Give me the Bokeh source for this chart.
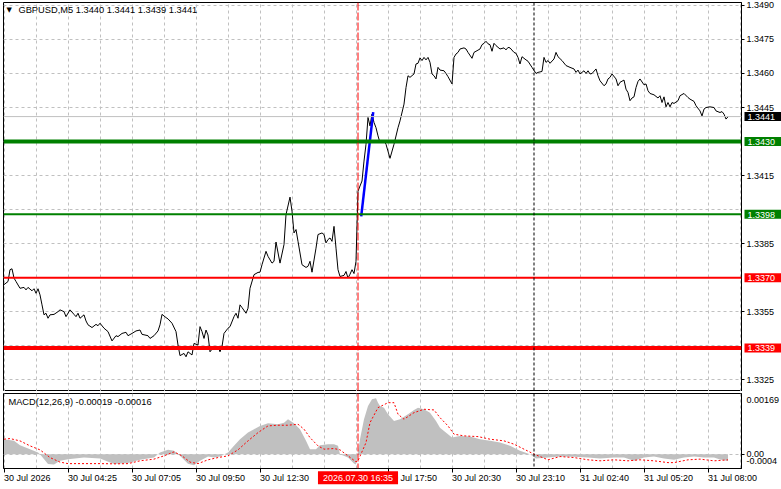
from bokeh.plotting import figure
from bokeh.layouts import column
from bokeh.models import Range1d, FixedTicker, Span, Label, Grid, PrintfTickFormatter
from bokeh.embed import file_html
from bokeh.resources import INLINE

# ---------------- data ----------------
symbol_title = "GBPUSD,M5  1.3440 1.3441 1.3439 1.3441"
macd_title = "MACD(12,26,9) -0.00019 -0.00016"

# (bar index, close) of the M5 line chart
price_points = [
    (0, 1.33669), (2, 1.33683), (3, 1.33735), (4, 1.33739), (5, 1.33698), (6, 1.33683),
    (8, 1.33653), (10, 1.33657), (11, 1.33646), (12, 1.33657), (14, 1.33642), (15, 1.33651),
    (16, 1.33631), (17, 1.33651), (18, 1.33624), (19, 1.33580), (20, 1.33536), (21, 1.33543),
    (22, 1.33521), (23, 1.33536), (25, 1.33538), (27, 1.33550), (28, 1.33558), (30, 1.33550),
    (31, 1.33528), (33, 1.33558), (35, 1.33538), (36, 1.33528), (37, 1.33543), (38, 1.33521),
    (40, 1.33536), (41, 1.33509), (42, 1.33492), (44, 1.33480), (46, 1.33494), (47, 1.33488),
    (48, 1.33499), (50, 1.33477), (52, 1.33462), (54, 1.33421), (56, 1.33444), (57, 1.33440),
    (59, 1.33454), (61, 1.33459), (62, 1.33444), (64, 1.33454), (66, 1.33465), (68, 1.33469),
    (69, 1.33450), (72, 1.33444), (73, 1.33432), (75, 1.33444), (77, 1.33465), (78, 1.33492),
    (79, 1.33538), (81, 1.33524), (82, 1.33518), (84, 1.33499), (86, 1.33462), (87, 1.33403),
    (88, 1.33356), (90, 1.33366), (91, 1.33351), (92, 1.33373), (94, 1.33359), (95, 1.33410),
    (97, 1.33403), (98, 1.33484), (99, 1.33462), (100, 1.33432), (101, 1.33469), (102, 1.33447),
    (103, 1.33373), (105, 1.33396), (107, 1.33396), (108, 1.33373), (109, 1.33396), (110, 1.33454),
    (112, 1.33477), (113, 1.33484), (115, 1.33528), (116, 1.33543), (117, 1.33521), (118, 1.33580),
    (119, 1.33568), (121, 1.33543), (122, 1.33565), (123, 1.33653), (125, 1.33713), (127, 1.33723),
    (128, 1.33724), (129, 1.33757), (131, 1.33816), (132, 1.33794), (134, 1.33764), (135, 1.33772),
    (136, 1.33857), (138, 1.33764), (140, 1.33846), (141, 1.33978), (143, 1.34055), (144, 1.33993),
    (145, 1.33897), (146, 1.33912), (147, 1.33860), (149, 1.33757), (151, 1.33745), (152, 1.33750),
    (153, 1.33772), (154, 1.33724), (156, 1.33830), (157, 1.33890), (159, 1.33897), (160, 1.33890),
    (161, 1.33853), (162, 1.33868), (163, 1.33875), (164, 1.33860), (165, 1.33926), (166, 1.33830),
    (167, 1.33735), (168, 1.33705), (170, 1.33710), (171, 1.33727), (172, 1.33698), (173, 1.33715),
    (174, 1.33735), (175, 1.33718), (176, 1.33772), (177, 1.34081), (178, 1.34104), (179, 1.34126),
    (180, 1.34214), (181, 1.34288), (182, 1.34406), (183, 1.34369), (184, 1.34421), (185, 1.34384),
    (186, 1.34361), (187, 1.34325), (188, 1.34295), (190, 1.34303), (191, 1.34288), (193, 1.34226),
    (195, 1.34288), (197, 1.34361), (198, 1.34391), (200, 1.34465), (201, 1.34538), (202, 1.34590),
    (203, 1.34583), (205, 1.34598), (206, 1.34642), (207, 1.34645), (208, 1.34669), (209, 1.34657),
    (210, 1.34671), (211, 1.34660), (212, 1.34671), (213, 1.34649), (214, 1.34598), (215, 1.34590),
    (216, 1.34576), (217, 1.34627), (218, 1.34615), (220, 1.34612), (221, 1.34600), (222, 1.34586),
    (224, 1.34554), (225, 1.34671), (226, 1.34686), (227, 1.34693), (228, 1.34708), (230, 1.34713),
    (231, 1.34708), (232, 1.34693), (234, 1.34667), (235, 1.34693), (236, 1.34698), (238, 1.34708),
    (239, 1.34727), (240, 1.34733), (241, 1.34742), (242, 1.34731), (243, 1.34727), (244, 1.34698),
    (245, 1.34733), (246, 1.34723), (248, 1.34708), (250, 1.34713), (251, 1.34704), (252, 1.34715),
    (253, 1.34713), (255, 1.34693), (256, 1.34689), (257, 1.34671), (258, 1.34642), (259, 1.34674),
    (261, 1.34660), (262, 1.34654), (264, 1.34627), (266, 1.34600), (267, 1.34605), (269, 1.34609),
    (270, 1.34671), (271, 1.34649), (272, 1.34657), (273, 1.34645), (275, 1.34664), (276, 1.34693),
    (277, 1.34674), (279, 1.34657), (281, 1.34635), (283, 1.34627), (285, 1.34620), (286, 1.34605),
    (287, 1.34615), (288, 1.34598), (290, 1.34612), (291, 1.34600), (292, 1.34612), (293, 1.34598),
    (294, 1.34600), (296, 1.34620), (297, 1.34590), (298, 1.34568), (300, 1.34546), (301, 1.34554),
    (302, 1.34576), (303, 1.34583), (304, 1.34598), (306, 1.34576), (307, 1.34546), (308, 1.34561),
    (310, 1.34571), (311, 1.34531), (312, 1.34516), (313, 1.34480), (314, 1.34492), (315, 1.34497),
    (316, 1.34538), (317, 1.34565), (318, 1.34576), (320, 1.34550), (321, 1.34554), (322, 1.34524),
    (323, 1.34512), (325, 1.34506), (327, 1.34492), (328, 1.34502), (329, 1.34472), (330, 1.34497),
    (331, 1.34453), (332, 1.34472), (333, 1.34453), (334, 1.34472), (335, 1.34468), (337, 1.34480),
    (338, 1.34502), (340, 1.34512), (342, 1.34494), (343, 1.34487), (345, 1.34477), (346, 1.34458),
    (348, 1.34435), (349, 1.34413), (350, 1.34443), (351, 1.34450), (353, 1.34453), (355, 1.34450),
    (356, 1.34435), (358, 1.34428), (359, 1.34432), (360, 1.34421), (361, 1.34399), (362, 1.34409),
]
price_bar = [b for b, _ in price_points]
price_close = [c for _, c in price_points]

# blue trade line (bar, price)
trade_bar = [178.6, 184.6]
trade_price = [1.3397, 1.3443]

# horizontal levels
level_price = [1.3430, 1.3398, 1.3370, 1.3339]
bid_price = 1.3441

# vertical markers (bar index)
signal_bar_pos = 177.0
day_separator_bar = 265.0
signal_time_text = "2026.07.30 16:35"

# bottom time axis
time_tick_bar = [0, 32, 64, 96, 128, 192, 224, 256, 288, 320, 352]
time_tick_label = ["30 Jul 2026", "30 Jul 04:25", "30 Jul 07:05", "30 Jul 09:50", "30 Jul 12:30",
                   "30 Jul 17:50", "30 Jul 20:30", "30 Jul 23:10", "31 Jul 02:40", "31 Jul 05:20",
                   "31 Jul 08:00"]
time_grid_bar = [0, 16, 32, 48, 64, 80, 96, 112, 128, 144, 160, 176, 192, 208, 224, 240, 256,
                 272, 288, 304, 320, 336, 352, 368]

# price axis
price_tick = [1.3490, 1.3475, 1.3460, 1.3445, 1.3415, 1.3385, 1.3355, 1.3325]
price_grid = [1.3490, 1.3475, 1.3460, 1.3445, 1.3430, 1.3415, 1.3400, 1.3385, 1.3370,
              1.3355, 1.3340, 1.3325]

# MACD histogram (bar, value)
macd_points = [
    (0, 0.000417), (5, 0.00037), (8, 0.00025), (13, 0.000139), (17, 0.000044), (18, 0.0),
    (22, -0.000278), (25, -0.000292), (28, -0.000186), (32, -0.000139), (40, -0.000095),
    (48, -0.000122), (55, -0.000278), (62, -0.00025), (68, -0.000158), (75, -0.000095),
    (78, 0.000044), (82, 0.00012), (85, 0.000092), (88, -0.000047), (92, -0.00027),
    (95, -0.000306), (98, -0.000186), (102, -0.000067), (105, -0.000095), (108, -0.000067),
    (112, 0.000044), (115, 0.000231), (118, 0.000417), (122, 0.0006), (125, 0.000695),
    (128, 0.000787), (132, 0.000862), (137, 0.000834), (140, 0.000878), (142, 0.000973),
    (145, 0.000862), (148, 0.000695), (151, 0.00037), (153, 0.000139), (156, 0.000139),
    (158, 0.00025), (162, 0.000278), (165, 0.000278), (167, 0.000231), (168, 0.0),
    (172, -0.000095), (175, -0.000264), (176, -0.000292), (178, 0.000417), (180, 0.000973),
    (182, 0.001343), (184, 0.001529), (186, 0.001557), (187, 0.001434), (188, 0.001343),
    (190, 0.001295), (192, 0.001112), (195, 0.000926), (198, 0.000973), (202, 0.001112),
    (205, 0.001232), (207, 0.001295), (210, 0.001251), (213, 0.001156), (216, 0.000926),
    (218, 0.000739), (222, 0.000556), (224, 0.000461), (228, 0.000509), (233, 0.000489),
    (238, 0.000417), (243, 0.00037), (248, 0.000322), (253, 0.000231), (258, 0.000092),
    (263, 0.0), (266, -0.000122), (272, -0.000095), (278, -0.000067), (285, -0.000075),
    (292, -0.000095), (298, -0.000122), (305, -0.000095), (310, -0.000095), (315, -0.000186),
    (320, -0.000095), (325, -0.000067), (330, -0.000122), (335, -0.000158), (340, -0.000095),
    (345, -0.000067), (350, -0.000095), (355, -0.000095), (358, -0.00015), (362, -0.00019),
]
macd_bar = [b for b, _ in macd_points]
macd_hist = [v for _, v in macd_points]

# MACD signal line (bar, value)
signal_points = [
    (0, 0.000417), (3, 0.000434), (8, 0.00037), (13, 0.000231), (18, 0.00012), (23, -0.000095),
    (28, -0.000222), (32, -0.000264), (40, -0.000264), (48, -0.000264), (56, -0.00027),
    (62, -0.000264), (68, -0.000186), (75, -0.000139), (80, -0.000047), (85, 0.000064),
    (89, -0.000047), (93, -0.000222), (97, -0.000264), (102, -0.000158), (107, -0.000095),
    (112, -0.000047), (117, 0.00012), (122, 0.00037), (127, 0.0006), (132, 0.000787),
    (137, 0.000806), (142, 0.000806), (147, 0.000834), (150, 0.000695), (153, 0.000461),
    (157, 0.000231), (160, 0.000139), (165, 0.000156), (168, 0.00012), (172, -0.000047),
    (176, -0.000214), (177, -0.000186), (181, 0.000322), (183, 0.000878), (187, 0.001295),
    (192, 0.001434), (195, 0.001434), (197, 0.001112), (200, 0.000973), (205, 0.001156),
    (210, 0.001251), (215, 0.001232), (218, 0.001017), (222, 0.000787), (225, 0.000556),
    (230, 0.000509), (237, 0.000489), (243, 0.000417), (250, 0.00037), (255, 0.000278),
    (260, 0.000139), (265, 0.0), (272, -0.000158), (278, -0.000067), (285, -0.000095),
    (292, -0.000158), (298, -0.000186), (305, -0.000158), (312, -0.000186), (318, -0.000158),
    (325, -0.000186), (332, -0.000236), (335, -0.000236), (342, -0.000158), (348, -0.000139),
    (355, -0.000186), (362, -0.00016),
]
signal_bar = [b for b, _ in signal_points]
signal_val = [v for _, v in signal_points]

macd_max_label = 0.00169
macd_min_label = -0.0004

# ---------------- styling ----------------
FONT = "Liberation Sans"
FS = "9px"
TITLE_FS = "9.3px"
GREEN = "#008000"
RED = "#FF0000"
GRID = "#C0C0C0"
level_color = [GREEN, GREEN, RED, RED]
level_width = [4, 2, 2, 4]

FRAME_W = 738
LEFT = 3
RIGHT = 40

xr = Range1d(-0.25, 368.75)


def style_axis(ax):
    ax.axis_line_color = "black"
    ax.major_tick_line_color = "black"
    ax.major_tick_out = 3
    ax.major_tick_in = 0
    ax.minor_tick_out = 0
    ax.minor_tick_in = 0
    ax.major_label_text_font = FONT
    ax.major_label_text_font_size = FS
    ax.major_label_text_color = "black"
    ax.major_label_standoff = 2


def add_grid(fig, dim, ticks):
    fig.add_layout(Grid(dimension=dim, ticker=FixedTicker(ticks=ticks), grid_line_color=GRID,
                        grid_line_dash="3 3", grid_line_width=1))


def tag(fig, y, text, bg, offset=3, pad=(3, 12, 2, 1), color="white"):
    l, r, t, b = pad
    fig.add_layout(Label(x=xr.end, y=y, x_offset=offset, text=text, text_align="left",
                         text_baseline="middle", text_font=FONT, text_font_size=FS,
                         text_color=color, background_fill_color=bg,
                         background_fill_alpha=1.0 if bg else 0.0,
                         padding=dict(left=l, right=r, top=t, bottom=b)), "right")


# ---------------- main price panel ----------------
p = figure(x_range=xr, y_range=Range1d(1.33198, 1.34913), frame_width=FRAME_W, frame_height=389,
           min_border_left=LEFT, min_border_right=RIGHT, min_border_top=2, min_border_bottom=0,
           x_axis_location=None, y_axis_location="right", toolbar_location=None,
           output_backend="svg", background_fill_color="white", border_fill_color="white",
           outline_line_color="black", outline_line_width=1)
p.xgrid.visible = False
p.ygrid.visible = False
add_grid(p, 0, time_grid_bar)
add_grid(p, 1, price_grid)

ay = p.yaxis[0]
ay.ticker = FixedTicker(ticks=price_tick)
ay.formatter = PrintfTickFormatter(format="%.4f")
style_axis(ay)

p.add_layout(Span(location=bid_price, dimension="width", line_color=GRID, line_width=1))
p.line(price_bar, price_close, line_color="black", line_width=1)
for lv, c, w in zip(level_price, level_color, level_width):
    p.add_layout(Span(location=lv, dimension="width", line_color=c, line_width=w))
p.add_layout(Span(location=signal_bar_pos, dimension="height", line_color=RED, line_width=1,
                  line_dash="8 2"))
p.add_layout(Span(location=day_separator_bar, dimension="height", line_color="black",
                  line_width=1, line_dash="3 2"))
p.line(trade_bar, trade_price, line_color="#0000FF", line_width=2.5)

# price tags on the axis
tag(p, bid_price, f"{bid_price:.4f}", "black")
for lv, c in zip(level_price, level_color):
    tag(p, lv, f"{lv:.4f}", c)

# title
p.add_layout(Label(x=2.6, y=1.34878, text="\u25BC", text_align="center", text_baseline="middle",
                   text_font="DejaVu Sans", text_font_size="7px", text_color="black"))
p.add_layout(Label(x=7.2, y=1.34878, text=symbol_title, text_align="left", text_baseline="middle",
                   text_font=FONT, text_font_size=TITLE_FS, text_color="black"))

# ---------------- MACD panel ----------------
m = figure(x_range=xr, y_range=Range1d(macd_min_label, macd_max_label), frame_width=FRAME_W,
           frame_height=75, min_border_left=LEFT, min_border_right=RIGHT, min_border_top=2,
           min_border_bottom=21, x_axis_location="below", y_axis_location="right",
           toolbar_location=None, output_backend="svg", background_fill_color="white",
           border_fill_color="white", outline_line_color="black", outline_line_width=1)
m.xgrid.visible = False
m.ygrid.visible = False
add_grid(m, 0, time_grid_bar)
add_grid(m, 1, [0.0])

m.varea(x=macd_bar, y1=0, y2=macd_hist, fill_color="#C0C0C0", fill_alpha=1.0)
m.line(signal_bar, signal_val, line_color=RED, line_width=1, line_dash="2 2")
m.add_layout(Span(location=signal_bar_pos, dimension="height", line_color=RED, line_width=1,
                  line_dash="8 2"))
m.add_layout(Span(location=day_separator_bar, dimension="height", line_color="black",
                  line_width=1, line_dash="3 2"))

ax = m.xaxis[0]
ax.ticker = FixedTicker(ticks=time_tick_bar)
ax.major_label_overrides = {b: t for b, t in zip(time_tick_bar, time_tick_label)}
style_axis(ax)
ax.major_tick_out = 4
ax.major_label_orientation = -0.0001   # numeric orientation -> labels start at the tick
ax.major_label_standoff = 5

my = m.yaxis[0]
my.ticker = FixedTicker(ticks=[0.0])
my.major_label_overrides = {0: "0.00"}
style_axis(my)

# MACD scale labels (window max near top, window min near bottom)
tag(m, 0.00152, f"{macd_max_label:.5f}", None, offset=5, pad=(0, 0, 0, 0), color="black")
tag(m, -0.000185, "-0.0004", None, offset=5, pad=(0, 0, 0, 0), color="black")

m.add_layout(Label(x=2.2, y=0.00144, text=macd_title, text_align="left", text_baseline="middle",
                   text_font=FONT, text_font_size=TITLE_FS, text_color="black"))

# crosshair time tag on the time axis
m.add_layout(Label(x=signal_bar_pos, y=-0.000659, text=signal_time_text,
                   text_align="center", text_baseline="middle", text_font=FONT,
                   text_font_size=FS, text_color="white", background_fill_color=RED,
                   background_fill_alpha=1.0,
                   padding=dict(left=5, right=5, top=2, bottom=1)), "below")

layout = column(p, m, spacing=0)
open("out.html", "w").write(file_html(layout, INLINE))
